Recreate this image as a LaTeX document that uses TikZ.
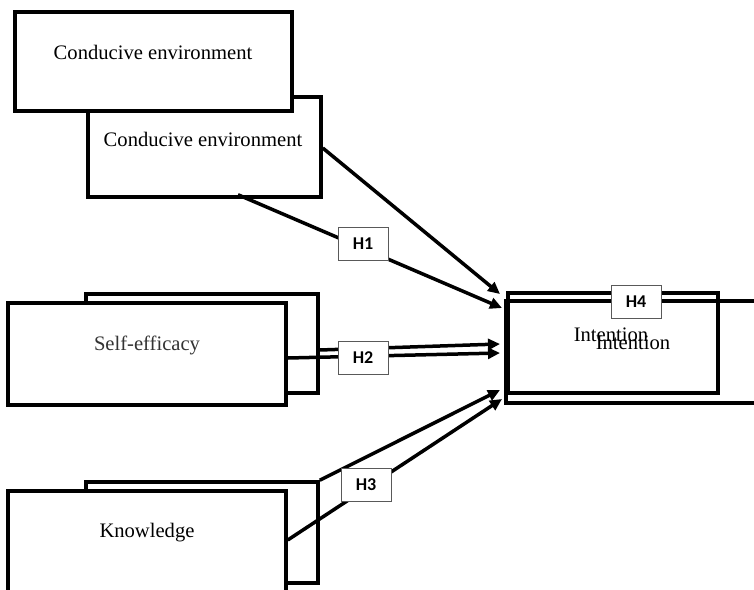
\documentclass[tikz,border=0pt]{standalone}
\usepackage{fontspec}
\setmainfont{Liberation Serif}
\newfontfamily\hfont{Carlito}
\usetikzlibrary{arrows.meta,calc}
\begin{document}
\begin{tikzpicture}[x=1pt,y=-1pt,
  box/.style={draw,line width=3.5pt,fill=white,inner sep=0pt},
  obox/.style={draw,line width=3.5pt,inner sep=0pt},
  lbl/.style={font=\fontsize{20.6}{24}\selectfont,inner sep=0pt},
  hyp/.style={draw=black!65,line width=0.9pt,fill=white,font=\hfont\bfseries\fontsize{18}{20}\selectfont,minimum width=50pt,minimum height=33pt,inner sep=0pt},
  conn/.style={line width=3.5pt,-{Triangle[length=12pt,width=11pt]}}]
\useasboundingbox (0,0) rectangle (754,589);
% Conducive environment
\node[box,minimum width=233pt,minimum height=100pt] (ce2) at (204.5,147) {};
\node[box,minimum width=277pt,minimum height=99pt] (ce1) at (153.5,61.5) {};
\node[lbl] (tce1) at (153,52) {Conducive environment};
\node[lbl] (tce2) at (203,139) {Conducive environment};
% Self-efficacy
\node[box,minimum width=232pt,minimum height=99pt] (se2) at (202,343.5) {};
\node[box,minimum width=278pt,minimum height=102pt] (se1) at (147,354) {};
\node[lbl,text=black!80] (tse) at (147,345) {Self-efficacy};
% Knowledge
\node[box,minimum width=232pt,minimum height=101pt] (kn2) at (202,532.5) {};
\node[box,minimum width=278pt,minimum height=119pt] (kn1) at (147,550.5) {};
\node[lbl] (tkn) at (147,533) {Knowledge};
% Intention
\node[obox,minimum width=274pt,minimum height=102pt] (inB) at (643,352) {};
\node[obox,minimum width=210pt,minimum height=100pt] (inA) at (613,343) {};
\node[lbl] (tin1) at (611,335) {Intention};
\node[lbl] (tin2) at (633,343) {Intention};
% tip coordinates
\coordinate (t1) at (500,294);
\coordinate (t2) at (502,308);
\coordinate (t3) at (500,344);
\coordinate (t4) at (500,353);
\coordinate (t5) at (500,390);
\coordinate (t6) at (502,399);
% connectors
\draw[conn] ($(ce2.east)+(0,1)$) -- (t1);
\draw[conn] ($(ce2.south)+(33.5,-4)$) -- (t2);
\draw[conn] ($(se2.east)+(0,6.5)$) -- (t3);
\draw[conn] ($(se1.east)+(0,4)$) -- (t4);
\draw[conn] (kn2.north east) -- (t5);
\draw[conn] ($(kn1.east)+(0,-10.5)$) -- (t6);
% hypothesis labels
\node[hyp] (h1) at (363,243.5) {H1};
\node[hyp] (h2) at (363,357.5) {H2};
\node[hyp] (h3) at (366,484.5) {H3};
\node[hyp] (h4) at (636,301.5) {H4};
\end{tikzpicture}
\end{document}
